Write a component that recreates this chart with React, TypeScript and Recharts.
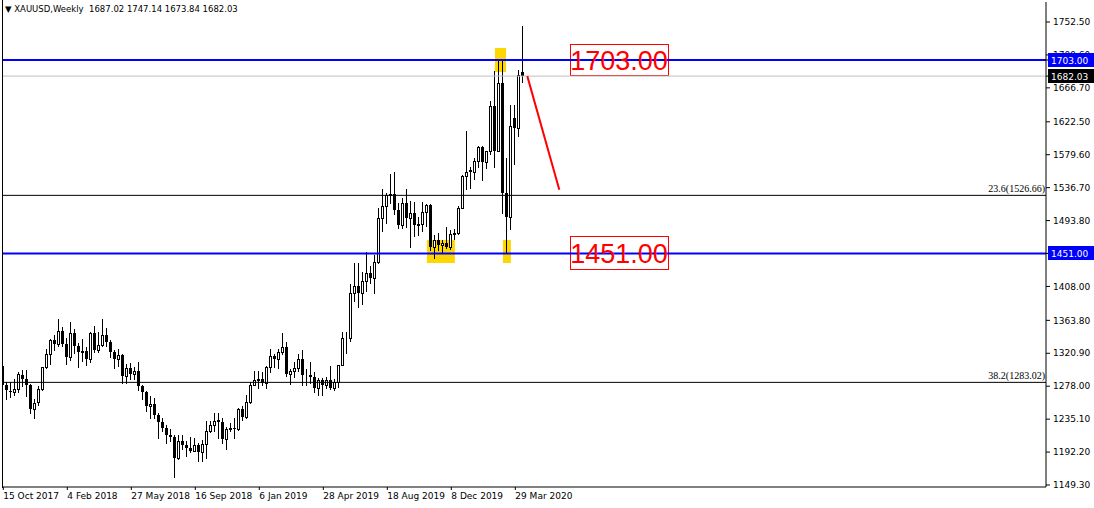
import React from 'react';
import { ComposedChart, Bar, XAxis, YAxis, ReferenceLine, ReferenceArea } from 'recharts';

// weekly XAUUSD candles, index 0 = week of 15 Oct 2017
const opens = [
  1304, 1280, 1272, 1270, 1274, 1293, 1288, 1279, 1248, 1257, 1275, 1303, 1320, 1338, 1333, 1350,
  1333, 1316, 1347, 1330, 1323, 1324, 1313, 1347, 1325, 1332, 1345, 1336, 1323, 1314, 1319, 1291,
  1302, 1294, 1298, 1278, 1270, 1252, 1255, 1241, 1231, 1223, 1214, 1212, 1184, 1206, 1201, 1197,
  1194, 1201, 1192, 1203, 1219, 1227, 1234, 1232, 1209, 1222, 1223, 1222, 1248, 1238, 1257, 1280,
  1286, 1288, 1282, 1303, 1318, 1314, 1322, 1329, 1294, 1298, 1302, 1313, 1292, 1292, 1290, 1276,
  1286, 1280, 1286, 1276, 1284, 1305, 1341, 1341, 1399, 1409, 1400, 1415, 1426, 1419, 1440, 1497,
  1513, 1527, 1529, 1507, 1488, 1517, 1497, 1504, 1488, 1489, 1505, 1514, 1459, 1468, 1462, 1464,
  1460, 1476, 1478, 1510, 1552, 1560, 1557, 1571, 1589, 1570, 1584, 1643, 1585, 1673, 1530, 1498,
  1628, 1614, 1687.02,
];
const highs = [
  1306, 1284, 1283, 1287, 1297, 1299, 1299, 1281, 1261, 1278, 1303, 1326, 1340, 1345, 1366, 1355,
  1341, 1362, 1352, 1334, 1340, 1329, 1349, 1356, 1348, 1365, 1354, 1338, 1325, 1326, 1320, 1307,
  1308, 1303, 1309, 1280, 1272, 1265, 1262, 1243, 1236, 1227, 1222, 1214, 1214, 1214, 1207, 1212,
  1211, 1204, 1208, 1233, 1233, 1243, 1243, 1237, 1225, 1230, 1236, 1250, 1252, 1266, 1284, 1298,
  1298, 1297, 1304, 1326, 1320, 1327, 1347, 1335, 1300, 1310, 1320, 1325, 1301, 1310, 1296, 1289,
  1289, 1290, 1304, 1288, 1306, 1348, 1349, 1411, 1439, 1438, 1427, 1453, 1434, 1449, 1510, 1535,
  1530, 1555, 1557, 1517, 1523, 1535, 1519, 1518, 1499, 1518, 1516, 1516, 1475, 1478, 1468, 1485,
  1481, 1483, 1513, 1553, 1611, 1564, 1575, 1591, 1591, 1585, 1649, 1689, 1703, 1703, 1575, 1645,
  1644, 1690, 1747.14,
];
const lows = [
  1276, 1261, 1264, 1266, 1271, 1278, 1265, 1243, 1236, 1253, 1273, 1302, 1307, 1325, 1330, 1331,
  1307, 1312, 1321, 1303, 1311, 1306, 1309, 1322, 1322, 1331, 1330, 1316, 1302, 1304, 1282, 1282,
  1287, 1288, 1273, 1261, 1246, 1237, 1237, 1211, 1219, 1204, 1206, 1160, 1183, 1196, 1187, 1192,
  1193, 1180, 1181, 1184, 1218, 1220, 1211, 1204, 1196, 1219, 1211, 1221, 1234, 1236, 1256, 1279,
  1276, 1279, 1276, 1297, 1303, 1302, 1320, 1291, 1281, 1290, 1298, 1280, 1280, 1282, 1270, 1266,
  1266, 1276, 1274, 1273, 1277, 1305, 1321, 1337, 1389, 1381, 1385, 1402, 1412, 1400, 1438, 1480,
  1491, 1517, 1503, 1484, 1484, 1485, 1459, 1474, 1475, 1480, 1487, 1456, 1445, 1456, 1452, 1458,
  1457, 1470, 1476, 1510, 1535, 1536, 1548, 1563, 1547, 1562, 1580, 1563, 1585, 1504, 1451, 1483,
  1567, 1604, 1673.84,
];
const closes = [
  1280, 1273, 1270, 1274, 1294, 1288, 1280, 1248, 1256, 1275, 1303, 1320, 1338, 1333, 1350, 1333,
  1316, 1347, 1330, 1323, 1324, 1313, 1347, 1325, 1332, 1345, 1336, 1323, 1314, 1319, 1291, 1302,
  1294, 1298, 1278, 1270, 1252, 1255, 1241, 1231, 1223, 1214, 1212, 1184, 1206, 1201, 1197, 1194,
  1201, 1192, 1203, 1219, 1227, 1233, 1232, 1209, 1222, 1223, 1222, 1248, 1238, 1257, 1280, 1286,
  1288, 1282, 1303, 1318, 1314, 1322, 1329, 1294, 1298, 1302, 1313, 1292, 1292, 1290, 1276, 1286,
  1280, 1286, 1276, 1284, 1305, 1341, 1341, 1399, 1409, 1400, 1415, 1426, 1419, 1440, 1497, 1513,
  1527, 1529, 1507, 1488, 1517, 1497, 1504, 1488, 1489, 1505, 1514, 1459, 1468, 1462, 1464, 1460,
  1476, 1478, 1510, 1552, 1557, 1557, 1571, 1589, 1570, 1584, 1643, 1585, 1673, 1530, 1498, 1617,
  1614, 1683, 1682.03,
];

const dateTicks = [0, 16, 32, 48, 64, 80, 96, 112, 128];
const dateLabels = ['15 Oct 2017', '4 Feb 2018', '27 May 2018', '16 Sep 2018', '6 Jan 2019', '28 Apr 2019', '18 Aug 2019', '8 Dec 2019', '29 Mar 2020'];
const priceTicks = [1752.5, 1709.6, 1666.7, 1622.5, 1579.6, 1536.7, 1493.8, 1450.9, 1408.0, 1363.8, 1320.9, 1278.0, 1235.1, 1192.2, 1149.3];

const levelHigh = 1703;
const levelLow = 1451;
const lastPrice = 1682.03;
const fib236 = 1526.66;
const fib382 = 1283.02;

// price tags on the right scale (drawn last so they sit over the plain ticks)
const tagPrices = [levelHigh, lastPrice, levelLow];
const tagColors = ['#0000FF', '#000000', '#0000FF'];

const candles = opens.map((o, i) => ({ i, o, h: highs[i], l: lows[i], c: closes[i] }));

const FONT = 'DejaVu Sans';

const Candle = (props: any) => {
    const { x, y, width, height, payload } = props;
    const { o, h, l, c } = payload;
    const top = Math.min(y, y + height);
    const bot = Math.max(y, y + height);
    const span = h - l || 1;
    const py = (v: number) => top + ((h - v) / span) * (bot - top);
    const cx = Math.floor(x + width / 2);
    const bTop = Math.round(Math.min(py(o), py(c)));
    const bBot = Math.round(Math.max(py(o), py(c)));
    return (
        <g>
            <line x1={cx + 0.5} x2={cx + 0.5} y1={Math.round(top)} y2={Math.round(bot) + 1} stroke="#000" />
            {c >= o ? (
                <rect x={cx - 0.5} y={bTop + 0.5} width={2} height={Math.max(bBot - bTop, 0)} fill="#fff" stroke="#000" />
            ) : (
                <rect x={cx - 1} y={bTop} width={3} height={Math.max(bBot - bTop, 1)} fill="#000" />
            )}
        </g>
    );
};

const PriceTick = ({ x, y, payload }: any) => {
    const k = tagPrices.indexOf(payload.value);
    if (k < 0) {
        return <text x={x} y={y} dy="0.355em" fontSize={9} fontFamily={FONT} fill="#000">{payload.value.toFixed(2)}</text>;
    }
    const ry = Math.round(y);
    return (
        <g>
            <rect x={x - 5} y={ry - 7} width={46} height={14} fill={tagColors[k]} />
            <text x={x - 2} y={ry + 4} fontSize={9} fontFamily={FONT} fill="#fff">{payload.value.toFixed(2)}</text>
        </g>
    );
};

const FibLabel = ({ viewBox, text }: any) => (
    <text x={viewBox.x + viewBox.width - 1} y={viewBox.y - 3} textAnchor="end" fontSize={10} fontFamily="Liberation Serif" fill="#000">{text}</text>
);

const DateTick = ({ x, y, payload }: any) => (
    <text x={x} y={y + 7} fontSize={9} fontFamily={FONT} fill="#000">{dateLabels[dateTicks.indexOf(payload.value)]}</text>
);

export default function App() {
    return (
        <div style={{ position: 'absolute', left: 0, top: 0, width: 1094, height: 508, background: '#fff' }}>
            <ComposedChart width={1094} height={508} data={candles} margin={{ top: 2, right: 0, bottom: 0, left: 2 }}>
                <XAxis
                    dataKey="i"
                    type="number"
                    domain={[-0.325, 260.675]}
                    allowDataOverflow
                    ticks={dateTicks}
                    interval={0}
                    tick={<DateTick />}
                    tickSize={3}
                    height={21}
                    stroke="#000"
                />
                <YAxis
                    orientation="right"
                    type="number"
                    domain={[1146.694, 1778.556]}
                    allowDataOverflow
                    ticks={[...priceTicks, ...tagPrices]}
                    interval={0}
                    tick={<PriceTick />}
                    tickSize={4}
                    tickMargin={3}
                    width={48}
                    stroke="#000"
                />
                <ReferenceArea x1={105.9} x2={112.9} y1={1438.5} y2={1468.5} fill="#FFD700" fillOpacity={1} stroke="none" />
                <ReferenceArea x1={122.9} x2={125.7} y1={1687.4} y2={1718.6} fill="#FFD700" fillOpacity={1} stroke="none" />
                <ReferenceArea x1={124.9} x2={126.9} y1={1438.5} y2={1468.5} fill="#FFD700" fillOpacity={1} stroke="none" />
                <ReferenceLine y={fib236} stroke="#000" label={(p: any) => <FibLabel viewBox={p.viewBox} text="23.6(1526.66)" />} />
                <ReferenceLine y={fib382} stroke="#000" label={(p: any) => <FibLabel viewBox={p.viewBox} text="38.2(1283.02)" />} />
                <ReferenceLine y={lastPrice} stroke="#C0C0C0" />
                <ReferenceLine y={levelHigh} stroke="#0000FF" strokeWidth={2} />
                <ReferenceLine y={levelLow} stroke="#0000FF" strokeWidth={2} />
                <ReferenceArea
                    x1={141.7} x2={166.2} y1={1682.2} y2={1723.8}
                    fill="none" stroke="#FF0000" shapeRendering="crispEdges"
                    label={{ value: '1703.00', position: 'center', fill: '#FF0000', fontSize: 27, fontFamily: 'Liberation Sans' }}
                />
                <ReferenceArea
                    x1={141.7} x2={166.2} y1={1430.7} y2={1472.4}
                    fill="none" stroke="#FF0000" shapeRendering="crispEdges"
                    label={{ value: '1451.00', position: 'center', fill: '#FF0000', fontSize: 27, fontFamily: 'Liberation Sans' }}
                />
                <ReferenceLine segment={[{ x: 131, y: 1682 }, { x: 139, y: 1534 }]} stroke="#FF0000" strokeWidth={2} />
                <Bar dataKey={(d: any) => [d.l, d.h]} barSize={3} shape={(p: any) => <Candle {...p} />} isAnimationActive={false} />
            </ComposedChart>
            <div style={{ position: 'absolute', left: 2, top: 0, width: 1, height: 488, background: '#000' }} />
            <div style={{ position: 'absolute', left: 5, top: 4, fontFamily: FONT, fontSize: 8.5, color: '#000', whiteSpace: 'pre' }}>
                {'\u25BC XAUUSD,Weekly  1687.02 1747.14 1673.84 1682.03'}
            </div>
        </div>
    );
}
